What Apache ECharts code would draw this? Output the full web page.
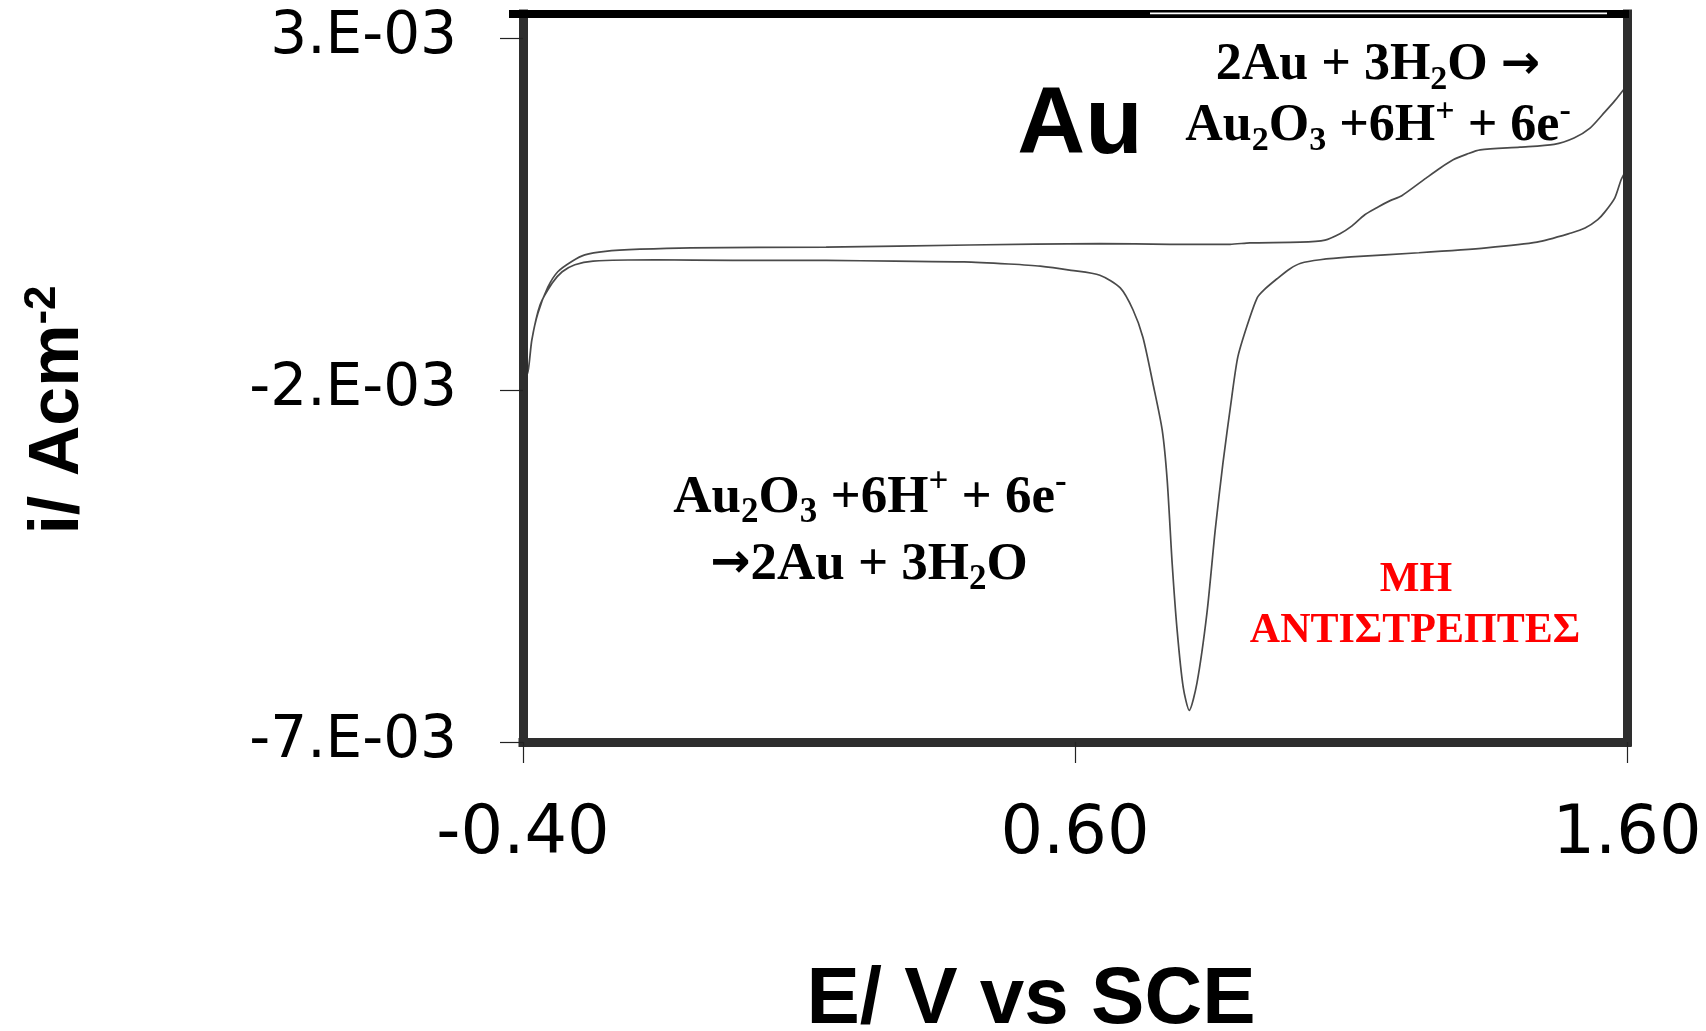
<!DOCTYPE html>
<html>
<head>
<meta charset="utf-8">
<title>Au cyclic voltammogram</title>
<script src="https://cdn.jsdelivr.net/npm/echarts@6.0.0/dist/echarts.min.js"></script>
<style>
  html, body { margin: 0; padding: 0; background: #fff; }
  #chart { width: 1706px; height: 1031px; }
</style>
</head>
<body>
<div id="chart"></div>
<script>
// Potential axis (V vs SCE)
const potentialTicks = [-0.4, 0.6, 1.6];
const potentialTickLabels = ['-0.40', '0.60', '1.60'];

// Current density axis (A cm^-2)
const currentTicks = [-7e-3, -2e-3, 3e-3];
const currentTickLabels = ['-7.E-03', '-2.E-03', '3.E-03'];

// Anodic sweep: -0.40 V -> 1.60 V  [E (V), i (A cm^-2)]
const forwardScan = [
  [-0.400, -1.90e-3], [-0.391, -1.74e-3], [-0.384, -1.29e-3], [-0.373, -0.91e-3],
  [-0.355, -0.54e-3], [-0.337, -0.32e-3], [-0.311, -0.17e-3], [-0.288, -0.08e-3],
  [-0.251, -0.03e-3], [-0.188, 0.00e-3], [-0.096, 0.02e-3], [0.149, 0.03e-3],
  [0.408, 0.06e-3], [0.645, 0.08e-3], [0.772, 0.07e-3], [0.881, 0.07e-3],
  [0.917, 0.09e-3], [1.008, 0.10e-3], [1.053, 0.13e-3], [1.080, 0.22e-3],
  [1.100, 0.32e-3], [1.125, 0.49e-3], [1.149, 0.60e-3], [1.171, 0.69e-3],
  [1.192, 0.76e-3], [1.236, 1.01e-3], [1.261, 1.15e-3], [1.285, 1.27e-3],
  [1.310, 1.35e-3], [1.334, 1.41e-3], [1.406, 1.45e-3], [1.468, 1.49e-3],
  [1.504, 1.58e-3], [1.533, 1.72e-3], [1.560, 1.95e-3], [1.578, 2.11e-3],
  [1.600, 2.33e-3]
];

// Cathodic sweep: 1.60 V -> -0.40 V, with the oxide reduction peak
const reverseScan = [
  [1.600, 1.18e-3], [1.589, 0.98e-3], [1.578, 0.73e-3], [1.560, 0.53e-3],
  [1.547, 0.42e-3], [1.524, 0.30e-3], [1.499, 0.23e-3], [1.437, 0.10e-3],
  [1.345, 0.02e-3], [1.223, -0.05e-3], [1.100, -0.11e-3], [1.044, -0.15e-3],
  [1.009, -0.20e-3], [0.989, -0.28e-3], [0.966, -0.42e-3], [0.942, -0.58e-3],
  [0.930, -0.69e-3], [0.912, -1.08e-3], [0.895, -1.53e-3], [0.884, -2.10e-3],
  [0.868, -3.04e-3], [0.854, -3.99e-3], [0.839, -5.17e-3], [0.821, -6.16e-3],
  [0.807, -6.55e-3], [0.796, -6.22e-3], [0.785, -5.41e-3], [0.776, -4.46e-3],
  [0.767, -3.28e-3], [0.758, -2.57e-3], [0.741, -1.90e-3], [0.723, -1.25e-3],
  [0.705, -0.86e-3], [0.682, -0.55e-3], [0.645, -0.37e-3], [0.593, -0.30e-3],
  [0.537, -0.24e-3], [0.480, -0.21e-3], [0.399, -0.18e-3], [0.274, -0.17e-3],
  [0.149, -0.16e-3], [-0.021, -0.16e-3], [-0.161, -0.15e-3], [-0.273, -0.17e-3],
  [-0.306, -0.22e-3], [-0.329, -0.32e-3], [-0.347, -0.48e-3], [-0.369, -0.79e-3],
  [-0.384, -1.29e-3], [-0.391, -1.74e-3], [-0.400, -1.90e-3]
];

function pickLabel(values, labels, v, eps) {
  const k = values.findIndex(t => Math.abs(t - v) < eps);
  return k >= 0 ? labels[k] : '';
}

const serif = '"Liberation Serif", "DejaVu Serif", serif';
const sans = '"Liberation Sans", Arial, sans-serif';
const frameColor = '#2e2e2e';

// Rich styles for chemical formulas (sub/superscripts, heavy arrow)
function formulaRich(size, color) {
  const base = { fontFamily: serif, fontWeight: 'bold', fill: color };
  const small = Math.round(size * 0.66);
  return {
    sub: Object.assign({}, base, { fontSize: small, lineHeight: small, verticalAlign: 'bottom' }),
    sup: Object.assign({}, base, { fontSize: small, lineHeight: small, verticalAlign: 'top' }),
    arr: { fontFamily: '"DejaVu Sans", sans-serif', fontWeight: 'bold', fontSize: Math.round(size * 0.9), fill: color, verticalAlign: 'middle' }
  };
}
function formulaText(x, y, text, size, color) {
  return {
    type: 'text', x: x, y: y, z: 10,
    style: {
      text: text,
      fontFamily: serif, fontWeight: 'bold', fontSize: size,
      lineHeight: Math.round(size * 1.22),
      fill: color, align: 'center', verticalAlign: 'middle',
      rich: formulaRich(size, color)
    }
  };
}

const chart = echarts.init(document.getElementById('chart'), null, { renderer: 'canvas' });

const yMin = -7e-3;
const yMax = 3.341e-3;

chart.setOption({
  animation: false,
  backgroundColor: '#ffffff',
  grid: { left: 523, right: 79, top: 14, bottom: 289, containLabel: false, outerBoundsMode: 'none' },
  xAxis: {
    type: 'value',
    min: -0.4, max: 1.6, interval: 1,
    name: 'E/ V vs SCE',
    nameLocation: 'middle',
    nameGap: 219,
    nameTextStyle: {
      fontFamily: sans, fontWeight: 'bold', fontSize: 80, color: '#000',
      padding: [0, 88, 0, 0]
    },
    axisLine: { show: true, onZero: false, lineStyle: { color: frameColor, width: 9, cap: 'square' } },
    axisTick: { show: true, length: 21, customValues: potentialTicks, lineStyle: { color: '#222', width: 1.2 } },
    axisLabel: {
      customValues: potentialTicks,
      margin: 60,
      fontFamily: '"DejaVu Sans", sans-serif', fontSize: 67, color: '#000',
      formatter: v => pickLabel(potentialTicks, potentialTickLabels, v, 1e-6)
    },
    splitLine: { show: false },
    z: 3
  },
  yAxis: [
    {
      type: 'value',
      min: yMin, max: yMax,
      name: 'i/ Acm{sup|-2}',
      nameLocation: 'middle',
      nameGap: 426,
      nameRotate: 90,
      nameTextStyle: {
        fontFamily: sans, fontWeight: 'bold', fontSize: 70, color: '#000',
        lineHeight: 76,
        padding: [0, 64, 0, 0],
        rich: {
          sup: { fontFamily: sans, fontWeight: 'bold', fontSize: 44, lineHeight: 44, color: '#000', verticalAlign: 'top' }
        }
      },
      axisLine: { show: true, onZero: false, lineStyle: { color: frameColor, width: 9, cap: 'square' } },
      axisTick: { show: true, length: 23, customValues: currentTicks, lineStyle: { color: '#222', width: 1.2 } },
      axisLabel: {
        customValues: currentTicks,
        margin: 66,
        fontFamily: '"DejaVu Sans", sans-serif', fontSize: 58, color: '#000',
        formatter: v => pickLabel(currentTicks, currentTickLabels, v, 1e-9)
      },
      splitLine: { show: false },
      z: 3
    },
    {
      type: 'value',
      position: 'right',
      min: yMin, max: yMax,
      axisLine: { show: true, onZero: false, lineStyle: { color: frameColor, width: 9, cap: 'square' } },
      axisTick: { show: false },
      axisLabel: { show: false },
      splitLine: { show: false },
      z: 3
    }
  ],
  series: [
    {
      name: 'Au',
      type: 'line',
      data: forwardScan.concat(reverseScan),
      showSymbol: false,
      smooth: 0.25,
      lineStyle: { color: '#4a4a4a', width: 1.7 },
      z: 2
    }
  ],
  graphic: [
    // top edge of the frame
    { type: 'rect', z: 5, shape: { x: 509, y: 10, width: 1120, height: 8 }, style: { fill: '#000' } },
    { type: 'rect', z: 6, shape: { x: 1150, y: 12.5, width: 457, height: 1.8 }, style: { fill: '#fff' } },
    // electrode label
    {
      type: 'text', x: 1080, y: 127, z: 10,
      style: { text: 'Au', fontFamily: sans, fontWeight: 'bold', fontSize: 94, fill: '#000', align: 'center', verticalAlign: 'middle' }
    },
    // oxide formation
    formulaText(1378, 66, '2Au + 3H{sub|2}O {arr|→}', 52, '#000'),
    formulaText(1378, 127, 'Au{sub|2}O{sub|3} +6H{sup|+} + 6e{sup|-}', 52, '#000'),
    // oxide reduction
    formulaText(870, 498, 'Au{sub|2}O{sub|3} +6H{sup|+} + 6e{sup|-}', 53, '#000'),
    formulaText(869, 565, '{arr|→}2Au + 3H{sub|2}O', 53, '#000'),
    // irreversibility note
    {
      type: 'text', x: 1416, y: 580, z: 10,
      style: { text: 'ΜΗ', fontFamily: serif, fontWeight: 'bold', fontSize: 42, fill: '#ff0000', align: 'center', verticalAlign: 'middle' }
    },
    {
      type: 'text', x: 1415, y: 631, z: 10,
      style: { text: 'ΑΝΤΙΣΤΡΕΠΤΕΣ', fontFamily: serif, fontWeight: 'bold', fontSize: 42, fill: '#ff0000', align: 'center', verticalAlign: 'middle' }
    }
  ]
});
</script>
</body>
</html>
